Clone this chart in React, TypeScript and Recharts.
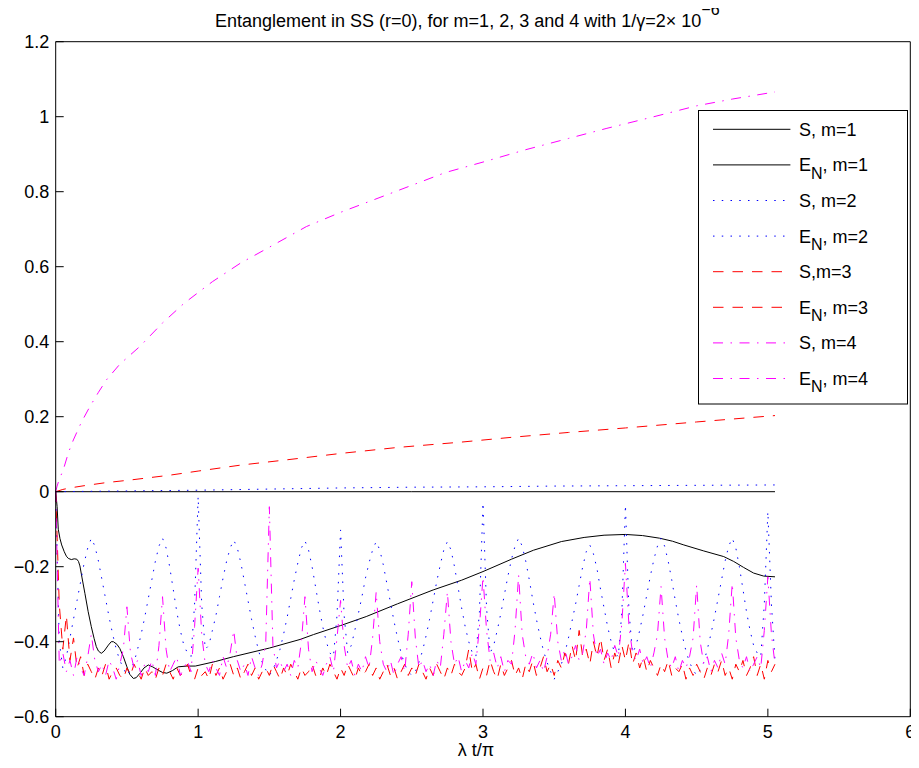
import React from 'react';
import { LineChart, Line, XAxis, YAxis, Legend, Customized } from 'recharts';

const FONT = '"Liberation Sans", Arial, Helvetica, sans-serif';

const X_TICKS = [0, 1, 2, 3, 4, 5, 6];
const Y_TICKS = [-0.6, -0.4, -0.2, 0, 0.2, 0.4, 0.6, 0.8, 1, 1.2];

const TITLE = 'Entanglement in SS (r=0), for m=1, 2, 3 and 4 with 1/\u03b3=2\u00d7 10';
const TITLE_SUP = '\u22126';
const X_LABEL = '\u03bb t/\u03c0';

// smooth curves as [x, y] pairs
const S1: [number, number][] = [[0, 0], [2.5, 0], [5.05, 0]];
const EN1: [number, number][] = [
  [0, 0], [0.01, -0.04], [0.018, -0.1], [0.03, -0.125], [0.042, -0.142], [0.06, -0.16], [0.075, -0.172],
  [0.089, -0.178], [0.11, -0.181], [0.13, -0.179], [0.148, -0.18], [0.16, -0.186], [0.17, -0.198],
  [0.185, -0.23], [0.205, -0.271], [0.228, -0.32], [0.25, -0.36], [0.27, -0.392], [0.285, -0.413],
  [0.3, -0.425], [0.32, -0.431], [0.34, -0.425], [0.37, -0.409], [0.39, -0.4], [0.405, -0.4],
  [0.43, -0.407], [0.45, -0.418], [0.475, -0.44], [0.5, -0.467], [0.52, -0.487], [0.545, -0.498],
  [0.565, -0.496], [0.592, -0.484], [0.62, -0.47], [0.65, -0.462], [0.68, -0.467], [0.72, -0.476],
  [0.75, -0.482], [0.78, -0.484], [0.82, -0.477], [0.86, -0.467], [0.92, -0.465], [0.98, -0.465],
  [1.12, -0.453], [1.247, -0.44], [1.5, -0.417], [1.716, -0.394], [1.81, -0.381], [2.0, -0.357],
  [2.18, -0.333], [2.4, -0.299], [2.65, -0.262], [2.85, -0.236], [3.0, -0.213], [3.2, -0.18],
  [3.355, -0.156], [3.55, -0.133], [3.71, -0.122], [3.85, -0.116], [4.0, -0.114], [4.12, -0.117],
  [4.24, -0.124], [4.33, -0.132], [4.41, -0.142], [4.55, -0.158], [4.69, -0.173], [4.76, -0.186],
  [4.83, -0.202], [4.9, -0.217], [4.97, -0.225], [5.05, -0.227],
];
const S2: [number, number][] = [
  [0, 0], [0.5, 0.002], [1, 0.004], [1.5, 0.007], [2, 0.01], [2.5, 0.012], [3, 0.013],
  [3.5, 0.015], [4, 0.016], [4.5, 0.017], [5.05, 0.018],
];
const S3: [number, number][] = [
  [0, 0], [0.05, 0.006], [0.1, 0.01], [0.2, 0.016], [0.35, 0.024], [0.52, 0.031], [0.8, 0.044],
  [1.0, 0.055], [1.3, 0.071], [1.6, 0.084], [2.0, 0.102], [2.4, 0.118], [2.84, 0.132], [3.2, 0.145],
  [3.6, 0.158], [4.0, 0.17], [4.5, 0.186], [5.05, 0.203],
];
const S4: [number, number][] = [
  [0, 0], [0.01, 0.015], [0.025, 0.033], [0.053, 0.058], [0.09, 0.105], [0.124, 0.138], [0.18, 0.185],
  [0.24, 0.227], [0.3, 0.265], [0.356, 0.298], [0.45, 0.34], [0.59, 0.387], [0.75, 0.45], [0.9, 0.502],
  [1.1, 0.56], [1.295, 0.609], [1.5, 0.652], [1.76, 0.707], [2.0, 0.745], [2.23, 0.778], [2.5, 0.817],
  [2.735, 0.851], [3.0, 0.879], [3.3, 0.912], [3.6, 0.942], [3.87, 0.969], [4.2, 1.0], [4.5, 1.029],
  [4.75, 1.047], [5.05, 1.066],
];

// oscillating / noisy curves sampled on a regular grid (x = index * GRID_STEP)
const GRID_STEP = 0.025;
const EN2_Y = [
  0, -0.40, -0.47, -0.44, -0.39, -0.34, -0.29, -0.24, -0.19, -0.15,
  -0.124, -0.145, -0.185, -0.235, -0.285, -0.335, -0.38, -0.42, -0.45, -0.47,
  -0.49, -0.475, -0.455, -0.42, -0.38, -0.335, -0.285, -0.235, -0.185, -0.145,
  -0.124, -0.15, -0.2, -0.26, -0.32, -0.37, -0.41, -0.43, -0.44, -0.3,
  -0.013, -0.3, -0.42, -0.41, -0.37, -0.33, -0.28, -0.23, -0.185, -0.15,
  -0.129, -0.15, -0.19, -0.24, -0.29, -0.34, -0.385, -0.425, -0.455, -0.475,
  -0.49, -0.475, -0.45, -0.42, -0.38, -0.335, -0.285, -0.235, -0.19, -0.15,
  -0.131, -0.155, -0.2, -0.255, -0.31, -0.36, -0.4, -0.43, -0.44, -0.33,
  -0.102, -0.33, -0.43, -0.41, -0.37, -0.325, -0.28, -0.23, -0.19, -0.155,
  -0.133, -0.155, -0.195, -0.245, -0.295, -0.345, -0.39, -0.43, -0.46, -0.48,
  -0.49, -0.48, -0.455, -0.425, -0.385, -0.34, -0.29, -0.24, -0.195, -0.155,
  -0.133, -0.155, -0.2, -0.255, -0.31, -0.36, -0.4, -0.43, -0.44, -0.32,
  -0.029, -0.31, -0.43, -0.41, -0.37, -0.325, -0.275, -0.225, -0.18, -0.145,
  -0.124, -0.145, -0.185, -0.235, -0.29, -0.34, -0.385, -0.425, -0.455, -0.48,
  -0.5, -0.48, -0.46, -0.43, -0.39, -0.345, -0.3, -0.25, -0.2, -0.16,
  -0.142, -0.165, -0.205, -0.26, -0.31, -0.36, -0.4, -0.43, -0.44, -0.32,
  -0.035, -0.32, -0.43, -0.41, -0.37, -0.325, -0.275, -0.225, -0.18, -0.145,
  -0.124, -0.145, -0.185, -0.235, -0.29, -0.34, -0.385, -0.425, -0.455, -0.475,
  -0.49, -0.475, -0.455, -0.42, -0.38, -0.335, -0.285, -0.235, -0.185, -0.145,
  -0.124, -0.15, -0.2, -0.26, -0.32, -0.37, -0.41, -0.43, -0.44, -0.3,
  -0.053, -0.3, -0.45,
];
const EN3_Y = [
  0, -0.3, -0.42, -0.33, -0.45, -0.39, -0.47, -0.44, -0.49, -0.46,
  -0.48, -0.5, -0.47, -0.49, -0.46, -0.5, -0.48, -0.47, -0.49, -0.5,
  -0.47, -0.49, -0.46, -0.48, -0.5, -0.47, -0.49, -0.48, -0.5, -0.47,
  -0.49, -0.46, -0.48, -0.5, -0.47, -0.49, -0.48, -0.46, -0.49, -0.5,
  -0.47, -0.49, -0.48, -0.5, -0.46, -0.49, -0.47, -0.5, -0.48, -0.46,
  -0.49, -0.47, -0.5, -0.48, -0.46, -0.49, -0.47, -0.5, -0.48, -0.47,
  -0.49, -0.46, -0.48, -0.5, -0.47, -0.49, -0.46, -0.48, -0.5, -0.47,
  -0.49, -0.48, -0.46, -0.49, -0.5, -0.47, -0.49, -0.46, -0.48, -0.5,
  -0.47, -0.49, -0.46, -0.48, -0.5, -0.47, -0.49, -0.48, -0.46, -0.49,
  -0.47, -0.5, -0.48, -0.46, -0.49, -0.47, -0.5, -0.48, -0.46, -0.49,
  -0.47, -0.49, -0.46, -0.48, -0.5, -0.47, -0.49, -0.46, -0.48, -0.5,
  -0.47, -0.49, -0.46, -0.48, -0.49, -0.47, -0.42, -0.48, -0.46, -0.5,
  -0.47, -0.49, -0.45, -0.48, -0.5, -0.46, -0.49, -0.47, -0.45, -0.49,
  -0.47, -0.5, -0.46, -0.48, -0.45, -0.49, -0.47, -0.44, -0.48, -0.46,
  -0.49, -0.45, -0.47, -0.43, -0.46, -0.41, -0.45, -0.37, -0.44, -0.42,
  -0.46, -0.4, -0.44, -0.39, -0.45, -0.42, -0.47, -0.43, -0.46, -0.41,
  -0.45, -0.4, -0.46, -0.43, -0.47, -0.44, -0.48, -0.45, -0.47, -0.49,
  -0.46, -0.48, -0.45, -0.49, -0.47, -0.48, -0.46, -0.5, -0.47, -0.49,
  -0.46, -0.48, -0.5, -0.47, -0.49, -0.46, -0.48, -0.45, -0.49, -0.47,
  -0.5, -0.46, -0.48, -0.45, -0.49, -0.47, -0.44, -0.49, -0.46, -0.5,
  -0.45, -0.48, -0.46,
];
const EN4_Y = [
  0, -0.46, -0.43, -0.48, -0.45, -0.49, -0.44, -0.47, -0.49, -0.44,
  -0.38, -0.45, -0.48, -0.46, -0.49, -0.45, -0.47, -0.5, -0.46, -0.42,
  -0.307, -0.43, -0.47, -0.45, -0.49, -0.46, -0.48, -0.45, -0.49, -0.41,
  -0.28, -0.42, -0.48, -0.46, -0.44, -0.49, -0.47, -0.45, -0.48, -0.36,
  -0.204, -0.38, -0.46, -0.48, -0.45, -0.47, -0.49, -0.44, -0.47, -0.43,
  -0.37, -0.45, -0.48, -0.46, -0.49, -0.44, -0.47, -0.49, -0.46, -0.4,
  -0.04, -0.41, -0.47, -0.45, -0.48, -0.46, -0.49, -0.45, -0.47, -0.4,
  -0.28, -0.42, -0.48, -0.45, -0.47, -0.49, -0.46, -0.44, -0.48, -0.39,
  -0.29, -0.41, -0.47, -0.45, -0.49, -0.46, -0.48, -0.44, -0.47, -0.39,
  -0.267, -0.4, -0.46, -0.48, -0.45, -0.49, -0.46, -0.44, -0.48, -0.38,
  -0.24, -0.39, -0.47, -0.45, -0.48, -0.46, -0.49, -0.45, -0.47, -0.38,
  -0.267, -0.4, -0.46, -0.44, -0.48, -0.45, -0.47, -0.43, -0.46, -0.36,
  -0.227, -0.37, -0.45, -0.43, -0.47, -0.44, -0.48, -0.45, -0.46, -0.37,
  -0.222, -0.38, -0.44, -0.46, -0.43, -0.47, -0.45, -0.48, -0.44, -0.38,
  -0.271, -0.4, -0.45, -0.42, -0.46, -0.44, -0.41, -0.45, -0.43, -0.37,
  -0.231, -0.38, -0.44, -0.42, -0.46, -0.43, -0.45, -0.41, -0.44, -0.35,
  -0.191, -0.36, -0.43, -0.45, -0.42, -0.46, -0.44, -0.47, -0.43, -0.38,
  -0.253, -0.39, -0.45, -0.47, -0.44, -0.48, -0.45, -0.47, -0.44, -0.39,
  -0.249, -0.4, -0.46, -0.44, -0.48, -0.45, -0.47, -0.43, -0.46, -0.38,
  -0.244, -0.39, -0.45, -0.47, -0.44, -0.48, -0.46, -0.44, -0.47, -0.37,
  -0.227, -0.38, -0.46,
];

type Pt = { x: number; y: number };
const fromPairs = (pairs: [number, number][]): Pt[] => pairs.map(([x, y]) => ({ x, y }));
const fromGrid = (ys: number[]): Pt[] => ys.map((y, i) => ({ x: Math.round(i * GRID_STEP * 1000) / 1000, y }));

type Series = {
  key: string;
  data: Pt[];
  color: string;
  dash?: string;
  sub: boolean;
  rest: string;
};

const DOT = '1.5 7.25';
const DASH = '10.5 9';
const DASHDOT = '10 7.5 1.5 7.5';

const SERIES: Series[] = [
  { key: 's1', data: fromPairs(S1), color: '#000000', sub: false, rest: 'S, m=1' },
  { key: 'e1', data: fromPairs(EN1), color: '#000000', sub: true, rest: ', m=1' },
  { key: 's2', data: fromPairs(S2), color: '#0000ff', dash: DOT, sub: false, rest: 'S, m=2' },
  { key: 'e2', data: fromGrid(EN2_Y), color: '#0000ff', dash: DOT, sub: true, rest: ', m=2' },
  { key: 's3', data: fromPairs(S3), color: '#ff0000', dash: DASH, sub: false, rest: 'S,m=3' },
  { key: 'e3', data: fromGrid(EN3_Y), color: '#ff0000', dash: DASH, sub: true, rest: ', m=3' },
  { key: 's4', data: fromPairs(S4), color: '#ff00ff', dash: DASHDOT, sub: false, rest: 'S, m=4' },
  { key: 'e4', data: fromGrid(EN4_Y), color: '#ff00ff', dash: DASHDOT, sub: true, rest: ', m=4' },
];

const fmtY = (v: number) => (v < 0 ? '\u2212' + String(Math.abs(v)) : String(v));

const LegendBox = () => (
  <svg width={211} height={296} style={{ display: 'block', overflow: 'visible' }}>
    <rect x={0.5} y={0.5} width={209} height={293.5} fill="#ffffff" stroke="#000000" strokeWidth={1} />
    {SERIES.map((s, i) => {
      const y = 19.3 + i * 35.6;
      return (
        <g key={s.key}>
          <line x1={15} x2={92.4} y1={y} y2={y} stroke={s.color} strokeWidth={1} strokeDasharray={s.dash} />
          <text x={101} y={y + 6.4} fontSize={18} fontFamily={FONT} fill="#000000">
            {s.sub ? (
              <>
                <tspan>E</tspan>
                <tspan fontSize={16} dy={7.3}>N</tspan>
                <tspan dy={-7.3}>{s.rest}</tspan>
              </>
            ) : (
              s.rest
            )}
          </text>
        </g>
      );
    })}
  </svg>
);

const Annotations = () => (
  <g fontFamily={FONT} fill="#000000">
    <text x={215} y={26.7} fontSize={18}>
      {TITLE}
      <tspan fontSize={16} dy={-11.7}>{TITLE_SUP}</tspan>
    </text>
    <text x={476} y={756} fontSize={18} textAnchor="middle">{X_LABEL}</text>
  </g>
);

export default function App() {
  const tickStyle = { fill: '#000000', fontSize: 18, fontFamily: FONT };
  return (
    <div style={{ width: 919, height: 760, marginLeft: -8, marginTop: -8 }}>
      <LineChart width={919} height={760} margin={{ top: 40.7, right: 7.7, bottom: 42.3, left: 0 }}>
        <XAxis
          xAxisId="b"
          type="number"
          dataKey="x"
          domain={[0, 6]}
          ticks={X_TICKS}
          interval={0}
          height={1}
          tickSize={-8}
          tickMargin={17}
          axisLine={{ stroke: '#000000', strokeWidth: 1 }}
          tickLine={{ stroke: '#000000', strokeWidth: 1 }}
          tick={tickStyle}
        />
        <XAxis
          xAxisId="t"
          orientation="top"
          type="number"
          dataKey="x"
          domain={[0, 6]}
          ticks={X_TICKS}
          interval={0}
          height={1}
          tickSize={-8}
          axisLine={{ stroke: '#000000', strokeWidth: 1 }}
          tickLine={{ stroke: '#000000', strokeWidth: 1 }}
          tick={false}
        />
        <YAxis
          yAxisId="l"
          type="number"
          domain={[-0.6, 1.2]}
          ticks={Y_TICKS}
          interval={0}
          width={55.7}
          tickSize={-8}
          tickMargin={14.4}
          tickFormatter={fmtY}
          axisLine={{ stroke: '#000000', strokeWidth: 1 }}
          tickLine={{ stroke: '#000000', strokeWidth: 1 }}
          tick={tickStyle}
        />
        <YAxis
          yAxisId="r"
          orientation="right"
          type="number"
          domain={[-0.6, 1.2]}
          ticks={Y_TICKS}
          interval={0}
          width={1}
          tickSize={-8}
          axisLine={{ stroke: '#000000', strokeWidth: 1 }}
          tickLine={{ stroke: '#000000', strokeWidth: 1 }}
          tick={false}
        />
        {SERIES.map((s) => (
          <Line
            key={s.key}
            xAxisId="b"
            yAxisId="l"
            data={s.data}
            dataKey="y"
            type="linear"
            stroke={s.color}
            strokeWidth={1}
            strokeDasharray={s.dash}
            dot={false}
            activeDot={false}
            isAnimationActive={false}
          />
        ))}
        <Legend
          layout="vertical"
          align="center"
          verticalAlign="middle"
          wrapperStyle={{ left: 698.3, top: 109.5, width: 211, height: 296, margin: 0, padding: 0 }}
          content={<LegendBox />}
        />
        <Customized component={<Annotations />} />
      </LineChart>
    </div>
  );
}
